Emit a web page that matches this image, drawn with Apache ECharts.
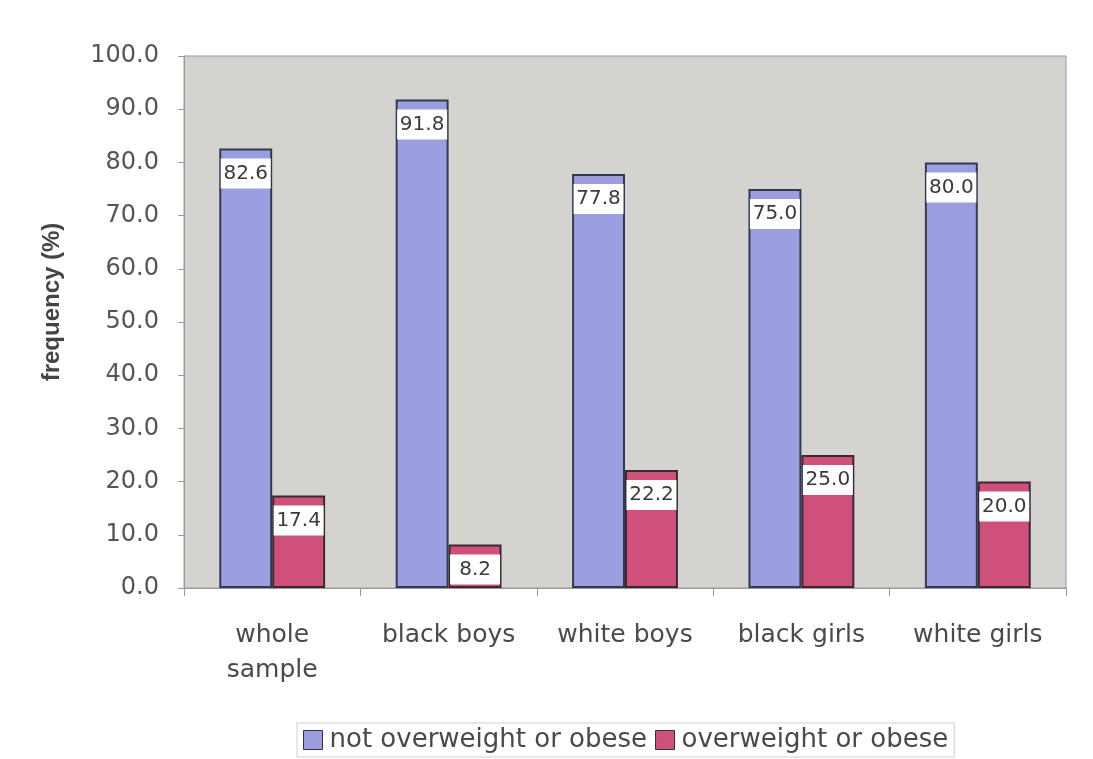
<!DOCTYPE html>
<html><head><meta charset="utf-8">
<script src="https://cdn.jsdelivr.net/npm/echarts@6/dist/echarts.min.js"></script>
<style>html,body{margin:0;padding:0;background:#fff}#c{width:1093px;height:759px}</style>
</head><body><div id="c"></div>
<script>
const categories = ['whole\nsample', 'black boys', 'white boys', 'black girls', 'white girls'];
const notOverweight = [82.6, 91.8, 77.8, 75.0, 80.0];
const overweight = [17.4, 8.2, 22.2, 25.0, 20.0];
const seriesNames = ['not overweight or obese', 'overweight or obese'];
const yTicks = {min: 0, max: 100, interval: 10};

const FONT = 'DejaVu Sans';
const chart = echarts.init(document.getElementById('c'));
const lbl = {
  show: true, position: 'insideTop', distance: 10,
  formatter: p => p.value.toFixed(1),
  backgroundColor: '#ffffff', color: '#3a3a3a',
  fontFamily: FONT, fontSize: 20, lineHeight: 22,
  width: 50, align: 'center', padding: [4, 0, 4, 0]
};
chart.setOption({
  animation: false,
  backgroundColor: '#ffffff',
  grid: {left: 184, right: 27, top: 56, bottom: 171, show: true,
         backgroundColor: '#d5d3cf', borderColor: '#9a9a9a', borderWidth: 1},
  legend: {
    bottom: 2, left: 297, itemWidth: 19, itemHeight: 19, itemGap: 8, icon: 'rect',
    padding: [4, 6, 4, 6], borderColor: '#cfcfcf', borderWidth: 1,
    textStyle: {fontFamily: FONT, fontSize: 26, color: '#4a4a4a', padding: [0, 0, 0, 2]},
    data: seriesNames.map(n => ({name: n, itemStyle: {borderColor: '#333', borderWidth: 1}}))
  },
  xAxis: {
    type: 'category', data: categories,
    axisLine: {lineStyle: {color: '#999'}},
    axisTick: {show: true, length: 8, lineStyle: {color: '#999'}},
    axisLabel: {fontFamily: FONT, fontSize: 25, color: '#4a4a4a', margin: 30, lineHeight: 35}
  },
  yAxis: {
    type: 'value', min: yTicks.min, max: yTicks.max, interval: yTicks.interval,
    name: 'frequency (%)', nameLocation: 'middle', nameGap: 120, nameRotate: 90,
    nameTextStyle: {fontFamily: 'Liberation Sans, Arial', fontSize: 24, fontWeight: 'bold', color: '#444',
                    padding: [0, 0, 0, 40]},
    axisLine: {show: true, lineStyle: {color: '#999'}},
    axisTick: {show: true, length: 6, lineStyle: {color: '#999'}},
    splitLine: {show: false},
    axisLabel: {fontFamily: FONT, fontSize: 24, color: '#555', margin: 25,
                formatter: v => v.toFixed(1)}
  },
  series: [
    {name: seriesNames[0], type: 'bar', data: notOverweight, barGap: '0%', barCategoryGap: '40%',
     itemStyle: {color: '#9c9ee0', borderColor: '#333a50', borderWidth: 2}, label: lbl},
    {name: seriesNames[1], type: 'bar', data: overweight,
     itemStyle: {color: '#d0507c', borderColor: '#3a2a30', borderWidth: 2}, label: lbl}
  ]
});
</script></body></html>
